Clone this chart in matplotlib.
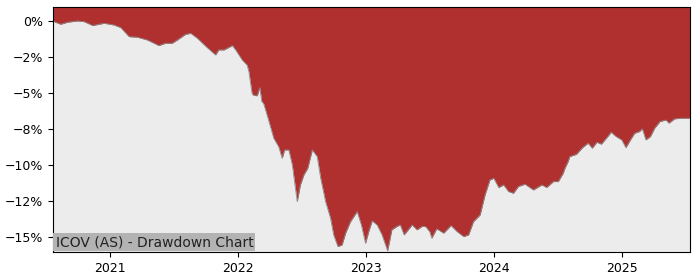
import matplotlib
matplotlib.use("Agg")
import matplotlib.pyplot as plt
import matplotlib.dates as mdates
from matplotlib.ticker import MultipleLocator, PercentFormatter
import pandas as pd

dates = [
    "2020-07-22", "2020-07-25", "2020-08-13", "2020-09-01", "2020-09-30", "2020-10-19",
    "2020-11-12", "2020-12-15", "2021-01-12", "2021-01-31", "2021-02-24",
    "2021-03-20", "2021-04-17", "2021-05-20", "2021-06-08", "2021-06-27",
    "2021-07-12", "2021-08-04", "2021-08-19", "2021-09-07", "2021-10-05",
    "2021-10-29", "2021-11-07", "2021-11-22", "2021-12-16", "2021-12-25",
    "2022-01-13", "2022-01-22", "2022-01-27", "2022-02-01", "2022-02-10",
    "2022-02-13", "2022-02-20", "2022-02-25", "2022-03-04", "2022-03-10",
    "2022-03-15", "2022-03-30", "2022-04-13", "2022-04-27", "2022-05-07",
    "2022-05-14", "2022-05-26", "2022-06-05", "2022-06-19", "2022-06-28",
    "2022-07-08", "2022-07-19", "2022-08-01", "2022-08-15", "2022-08-25",
    "2022-09-08", "2022-09-22", "2022-10-01", "2022-10-13", "2022-10-25",
    "2022-11-04", "2022-11-18", "2022-12-07", "2022-12-19", "2022-12-31",
    "2023-01-09", "2023-01-19", "2023-02-02", "2023-02-16", "2023-03-04",
    "2023-03-16", "2023-03-30", "2023-04-09", "2023-04-20", "2023-05-13",
    "2023-05-27", "2023-06-10", "2023-06-20", "2023-07-02", "2023-07-08",
    "2023-07-22", "2023-08-11", "2023-09-01", "2023-09-18", "2023-10-07",
    "2023-10-21", "2023-11-04", "2023-11-23", "2023-12-07", "2023-12-21",
    "2024-01-01", "2024-01-15", "2024-01-29", "2024-02-12", "2024-02-26",
    "2024-03-11", "2024-03-30", "2024-04-23", "2024-05-17", "2024-05-31",
    "2024-06-19", "2024-07-03", "2024-07-17", "2024-07-22", "2024-07-31",
    "2024-08-05", "2024-08-24", "2024-09-10", "2024-09-26", "2024-10-08",
    "2024-10-21", "2024-11-03", "2024-11-17", "2024-12-01", "2024-12-15",
    "2024-12-31", "2025-01-12", "2025-01-25", "2025-02-06", "2025-02-19",
    "2025-02-28", "2025-03-10", "2025-03-23", "2025-04-04", "2025-04-19",
    "2025-05-06", "2025-05-15", "2025-05-31", "2025-06-19", "2025-07-08",
    "2025-07-14",
]
drawdown = [
    0.0, -0.05, -0.23, -0.09, 0.0, -0.05,
    -0.32, -0.16, -0.28, -0.46, -1.09,
    -1.13, -1.32, -1.71, -1.55, -1.55,
    -1.32, -0.93, -0.86, -1.20, -1.85,
    -2.36, -2.01, -2.01, -1.71, -2.00,
    -2.71, -2.94, -3.06, -3.52, -5.02,
    -5.14, -5.19, -5.19, -4.63, -5.60,
    -5.72, -6.95, -8.15, -8.73, -9.54,
    -8.96, -8.96, -10.00, -12.55, -11.39,
    -10.69, -10.23, -8.96, -9.42, -10.93,
    -12.55, -13.70, -14.86, -15.67, -15.56,
    -14.74, -13.94, -13.24, -14.17, -15.44,
    -14.63, -13.89, -14.17, -14.86, -15.97,
    -14.51, -14.28, -14.17, -14.86, -14.17,
    -14.51, -14.28, -14.28, -14.63, -15.09,
    -14.44, -14.74, -14.21, -14.63, -14.98,
    -14.86, -13.94, -13.47, -12.08, -11.04,
    -10.93, -11.57, -11.39, -11.85, -11.97,
    -11.50, -11.34, -11.74, -11.39, -11.57,
    -11.16, -11.16, -10.58, -10.23, -9.77,
    -9.42, -9.26, -8.80, -8.49, -8.84,
    -8.43, -8.56, -8.15, -7.73, -8.03,
    -8.26, -8.80, -8.26, -7.80, -7.69,
    -7.50, -8.26, -8.03, -7.45, -6.99,
    -6.88, -7.10, -6.80, -6.76, -6.76,
    -6.76,
]
title = "ICOV (AS) - Drawdown Chart"

x = pd.to_datetime(dates)
top = 0.97
bottom = -16.05

fig = plt.figure(figsize=(7, 2.8), dpi=100)
ax = fig.add_axes([53 / 700, 1 - 252 / 280, (690 - 53) / 700, (252 - 7) / 280])
ax.set_facecolor("#ececec")
ax.fill_between(x, drawdown, top, color="#b03030", linewidth=0)
ax.plot(x, drawdown, color="#8a8a8a", linewidth=0.6)
ax.set_xlim(x[0], x[-1])
ax.set_ylim(bottom, top)
ax.yaxis.set_major_locator(MultipleLocator(2.5))
ax.yaxis.set_major_formatter(PercentFormatter(decimals=0))
ax.xaxis.set_major_locator(mdates.YearLocator())
ax.xaxis.set_major_formatter(mdates.DateFormatter("%Y"))
ax.tick_params(labelsize=9)
ax.text(0.004, 0.012, title, transform=ax.transAxes, ha="left", va="bottom",
        fontsize=10, color="#222222",
        bbox=dict(facecolor="#b3b3b3", edgecolor="none", pad=1.5))
fig.savefig("out.png", dpi=100)
